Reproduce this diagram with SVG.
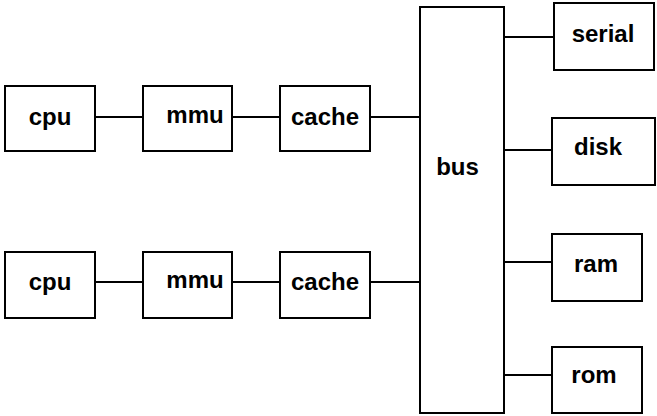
<svg xmlns="http://www.w3.org/2000/svg" width="657" height="416" viewBox="0 0 657 416">
  <style>
    .box { fill: #ffffff; stroke: #000000; stroke-width: 2; }
    .wire { stroke: #000000; stroke-width: 2; fill: none; }
    .lbl { font-family: "Liberation Sans", Arial, sans-serif; font-weight: bold; font-size: 24px; fill: #000000; text-anchor: middle; }
  </style>
  <rect width="657" height="416" fill="#ffffff"/>

  <g id="connectors">
    <line class="wire" x1="96" y1="117" x2="142" y2="117"/>
    <line class="wire" x1="233" y1="117" x2="279" y2="117"/>
    <line class="wire" x1="371" y1="117" x2="420" y2="117"/>
    <line class="wire" x1="96" y1="282" x2="142" y2="282"/>
    <line class="wire" x1="233" y1="282" x2="279" y2="282"/>
    <line class="wire" x1="371" y1="282" x2="420" y2="282"/>
    <line class="wire" x1="504" y1="37" x2="553" y2="37"/>
    <line class="wire" x1="504" y1="150" x2="552" y2="150"/>
    <line class="wire" x1="504" y1="262" x2="552" y2="262"/>
    <line class="wire" x1="504" y1="375" x2="552" y2="375"/>
  </g>

  <g id="cpu1"><rect class="box" x="5" y="86" width="90" height="65"/><text class="lbl" x="50" y="125">cpu</text></g>
  <g id="mmu1"><rect class="box" x="143" y="86" width="89" height="65"/><text class="lbl" x="195" y="123">mmu</text></g>
  <g id="cache1"><rect class="box" x="280" y="86" width="90" height="65"/><text class="lbl" x="325" y="125">cache</text></g>

  <g id="cpu2"><rect class="box" x="5" y="252" width="90" height="66"/><text class="lbl" x="50" y="290">cpu</text></g>
  <g id="mmu2"><rect class="box" x="143" y="252" width="89" height="66"/><text class="lbl" x="195" y="288">mmu</text></g>
  <g id="cache2"><rect class="box" x="280" y="252" width="90" height="66"/><text class="lbl" x="325" y="290">cache</text></g>

  <g id="bus"><rect class="box" x="420" y="7" width="84" height="406"/><text class="lbl" x="457.5" y="175">bus</text></g>

  <g id="serial"><rect class="box" x="554" y="3" width="100" height="67"/><text class="lbl" x="603" y="42">serial</text></g>
  <g id="disk"><rect class="box" x="552" y="118" width="103" height="67"/><text class="lbl" x="598" y="155">disk</text></g>
  <g id="ram"><rect class="box" x="552" y="234" width="90" height="67"/><text class="lbl" x="596" y="272">ram</text></g>
  <g id="rom"><rect class="box" x="552" y="347" width="90" height="66"/><text class="lbl" x="594" y="383">rom</text></g>
</svg>
